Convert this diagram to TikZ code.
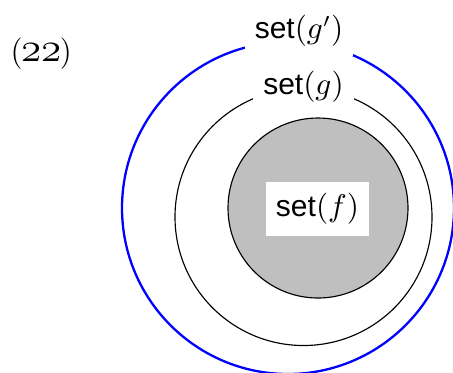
\documentclass[tikz,border=0pt]{standalone}
\usepackage{fontspec}
\newfontfamily\helv{Liberation Sans}
\newcommand\osnum[1]{{\usefont{OML}{cmm}{m}{it}\fontsize{13.5}{15}\selectfont #1}}
\newcommand\numparen[1]{{\fontsize{11}{13}\selectfont #1}}
\begin{document}
\begin{tikzpicture}[x=0.35pt,y=-0.35pt,
  ring/.style={draw=black,line width=0.4pt},
  outer/.style={draw=blue,line width=0.8pt},
  core/.style={draw=black,fill=black!25,line width=0.4pt},
  tag/.style={fill=white,inner sep=3.4pt,font=\fontsize{10.5}{12}\selectfont}]
  \useasboundingbox (0,0) rectangle (453,372);
  % nested sets
  \draw[outer] (288,208) circle[radius=166];
  \draw[ring] (303.5,217) circle[radius=128.5];
  \draw[core] (318,208) circle[radius=90];
  % labels
  \node[tag] (gp) at (299,31) {{\helv set}$(g')$};
  \node[tag,minimum width=35.5pt] (g) at (303.5,87) {{\helv set}$(g)$};
  \node[tag,minimum width=36pt,minimum height=19pt] (f) at (317.5,209) {{\helv set}$(f)$};
  \node[inner sep=0pt,anchor=base west] (num) at (10,61) {\numparen{(}\kern-0.5pt\osnum{22}\kern-0.5pt\numparen{)}};
\end{tikzpicture}
\end{document}
